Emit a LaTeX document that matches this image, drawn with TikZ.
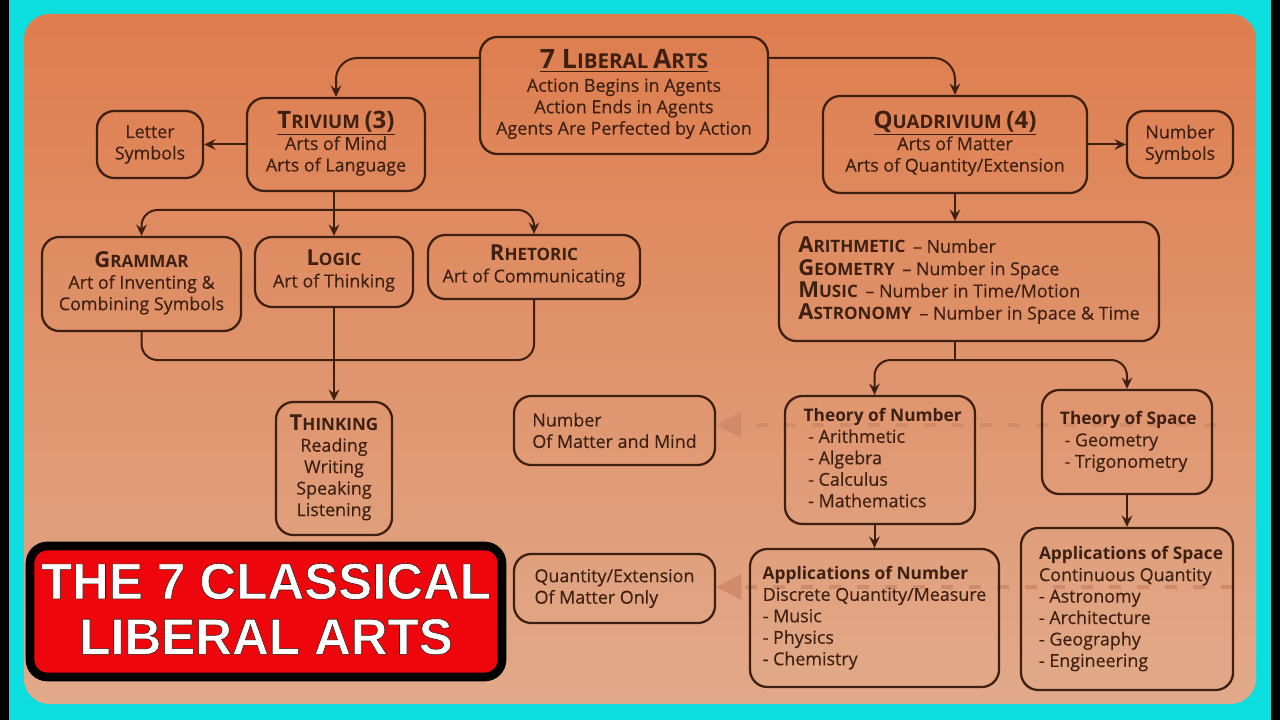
\documentclass[tikz,border=0pt]{standalone}
\usepackage{fontspec}
\setmainfont{Open Sans}[UprightFeatures={FakeBold=0.3}]
\newfontfamily\bannerfont{Liberation Sans}[BoldFeatures={FakeBold=1.1}]
\usepackage{tikz}
\usetikzlibrary{arrows.meta}
\usetikzlibrary{backgrounds}
\definecolor{edgecyan}{RGB}{12,222,224}
\definecolor{paneltop}{RGB}{222,125,78}
\definecolor{panelbottom}{RGB}{225,170,138}
\definecolor{inkbrown}{RGB}{62,32,18}
\definecolor{dashbrown}{RGB}{208,140,106}
\definecolor{bannerred}{RGB}{238,6,12}
\newcommand{\capword}[2]{{\bfseries\fontsize{16.5}{16}\selectfont #1\fontsize{12.8}{16}\selectfont #2}}
\newcommand{\headword}[2]{{\bfseries\fontsize{18}{16}\selectfont #1\fontsize{14}{16}\selectfont #2}}
\newcommand{\rootword}[2]{{\bfseries\fontsize{20}{16}\selectfont #1\fontsize{15.4}{16}\selectfont #2}}
\newcommand{\subhead}[1]{{\bfseries\fontsize{13}{16}\selectfont #1}}
\newcommand{\bannerline}[1]{\special{pdf:code 0.2 0.09 0.07 RG}#1}
\tikzstyle{box}=[draw=inkbrown,line width=1.7pt,rounded corners=13pt,text=inkbrown,inner sep=0pt,font=\fontsize{13.4}{16.1}\selectfont]
\tikzstyle{boxsize}=[minimum width=#1*0.75pt]
\tikzstyle{boxtall}=[minimum height=#1*0.75pt]
\tikzstyle{link}=[draw=inkbrown,line width=1.5pt,rounded corners=12pt,-{Stealth[length=8.5pt,width=8pt,inset=3pt]}]
\tikzstyle{joinline}=[draw=inkbrown,line width=1.5pt,rounded corners=12pt]
\tikzstyle{fadedlink}=[draw=dashbrown,line width=3pt,dash pattern=on 9pt off 12pt,-{Triangle[length=19pt,width=19pt]}]
\begin{document}
\begin{tikzpicture}[x=0.75pt,y=-0.75pt]
\useasboundingbox (0,0) rectangle (1280,720);

\node [box,boxsize=288,boxtall=117] (root) at (624,95.5) {\begin{tabular}{@{}c@{}}\underline{\rootword{7 L}{IBERAL} \rootword{A}{RTS}}\\[1pt]Action Begins in Agents\\Action Ends in Agents\\Agents Are Perfected by Action\end{tabular}};
\node [box,boxsize=178,boxtall=93] (trivium) at (336,144.5) {\begin{tabular}{@{}c@{}}\underline{\headword{T}{RIVIUM} \headword{(3)}{}}\\Arts of Mind\\Arts of Language\end{tabular}};
\node [box,boxsize=106,boxtall=67,align=center] (letter) at (150,144.5) {Letter\\Symbols};
\node [box,boxsize=264,boxtall=97] (quadrivium) at (955,144.5) {\begin{tabular}{@{}c@{}}\underline{\headword{Q}{UADRIVIUM} \headword{(4)}{}}\\Arts of Matter\\Arts of Quantity/Extension\end{tabular}};
\node [box,boxsize=106,boxtall=67,align=center] (numsym) at (1180,144.5) {Number\\Symbols};

\node [box,boxsize=199,boxtall=94] (grammar) at (141.5,284) {\begin{tabular}{@{}c@{}}\capword{G}{RAMMAR}\\Art of Inventing \&\\Combining Symbols\end{tabular}};
\node [box,boxsize=158,boxtall=70] (logic) at (334,272) {\begin{tabular}{@{}c@{}}\capword{L}{OGIC}\\Art of Thinking\end{tabular}};
\node [box,boxsize=212,boxtall=64] (rhetoric) at (534,267) {\begin{tabular}{@{}c@{}}\capword{R}{HETORIC}\\Art of Communicating\end{tabular}};
\node [box,boxsize=116,boxtall=133] (thinking) at (334,468.5) {\begin{tabular}{@{}c@{}}\capword{T}{HINKING}\\Reading\\Writing\\Speaking\\Listening\end{tabular}};

\node [box,boxsize=380,boxtall=119] (pairs) at (969,281.5) {\begin{tabular}{@{}l@{}}\capword{A}{RITHMETIC} \,-- Number\\\capword{G}{EOMETRY} \,-- Number in Space\\\capword{M}{USIC} \,-- Number in Time/Motion\\\capword{A}{STRONOMY} \,-- Number in Space \& Time\end{tabular}};

\node [box,boxsize=201,boxtall=69,align=left] (nummatter) at (614.5,430.5) {Number\\Of Matter and Mind};
\node [box,boxsize=201,boxtall=69,align=left] (qtymatter) at (614.5,588.5) {Quantity/Extension\\Of Matter Only};
\node [box,boxsize=190,boxtall=128] (thnum) at (880,460) {\begin{tabular}{@{\hspace{4pt}}l@{}}\subhead{Theory of Number}\\\ - Arithmetic\\\ - Algebra\\\ - Calculus\\\ - Mathematics\end{tabular}};
\node [box,boxsize=170,boxtall=104] (thspace) at (1127,442) {\begin{tabular}{@{\hspace{2pt}}l@{}}\subhead{Theory of Space}\\\ - Geometry\\\ - Trigonometry\end{tabular}};
\node [box,boxsize=249,boxtall=138] (appnum) at (874.5,618) {\begin{tabular}{@{}l@{}}\subhead{Applications of Number}\\Discrete Quantity/Measure\\- Music\\- Physics\\- Chemistry\end{tabular}};
\node [box,boxsize=212,boxtall=162] (appspace) at (1127,609) {\begin{tabular}{@{\hspace{6pt}}l@{}}\subhead{Applications of Space}\\Continuous Quantity\\- Astronomy\\- Architecture\\- Geography\\- Engineering\end{tabular}};

\node [draw=black,line width=6.5pt,fill=bannerred,rounded corners=13pt,minimum width=472*0.75pt,minimum height=131*0.75pt,inner sep=0pt,align=center,text=white,font=\bannerfont\bfseries\fontsize{38.2}{41.5}\selectfont] (banner) at (266,611.5) {\bannerline{THE 7 CLASSICAL}\\\bannerline{LIBERAL ARTS}\rule[-4pt]{0pt}{4pt}};

\coordinate (rootleft) at ([yshift=37.5*0.75pt]root.west);
\coordinate (rootright) at ([yshift=37.5*0.75pt]root.east);
\coordinate (trivbranch) at (334,210);
\coordinate (join) at (334,360);
\coordinate (quadbranch) at (955,360);
\coordinate (numfade) at (1216,425);
\coordinate (qtyfade) at (1233,587);

\begin{pgfonlayer}{background}
\fill[edgecyan] (0,0) rectangle (1280,720);
\fill[black] (0,0) rectangle (9,720);
\fill[black] (1271,0) rectangle (1280,720);
\shade[top color=paneltop,bottom color=panelbottom,rounded corners=19pt] (24,14) rectangle (1256,704);
\draw[fadedlink] (numfade) -- (nummatter.east |- numfade);
\draw[fadedlink] (qtyfade) -- (qtymatter.east |- qtyfade);
\end{pgfonlayer}

\draw[link,rounded corners=16pt] (rootleft) -| (trivium.north);
\draw[link,rounded corners=16pt] (rootright) -| (quadrivium.north);
\draw[link] (trivium.west) -- (letter.east);
\draw[link] (quadrivium.east) -- (numsym.west);
\draw[link] (logic.north |- trivium.south) -- (logic.north);
\draw[link] (trivbranch) -| (grammar.north);
\draw[link] (trivbranch) -| (rhetoric.north);
\draw[joinline] (grammar.south) |- (join) -| (rhetoric.south);
\draw[link] (logic.south) -- (thinking.north);
\draw[link] (quadrivium.south) -- (quadrivium.south |- pairs.north);
\draw[joinline] (quadrivium.south |- pairs.south) -- (quadbranch);
\draw[link] (quadbranch) -| (appnum.north |- thnum.north);
\draw[link] (quadbranch) -| (thspace.north);
\draw[link] (appnum.north |- thnum.south) -- (appnum.north);
\draw[link] (thspace.south) -- (appspace.north);
\end{tikzpicture}
\end{document}
